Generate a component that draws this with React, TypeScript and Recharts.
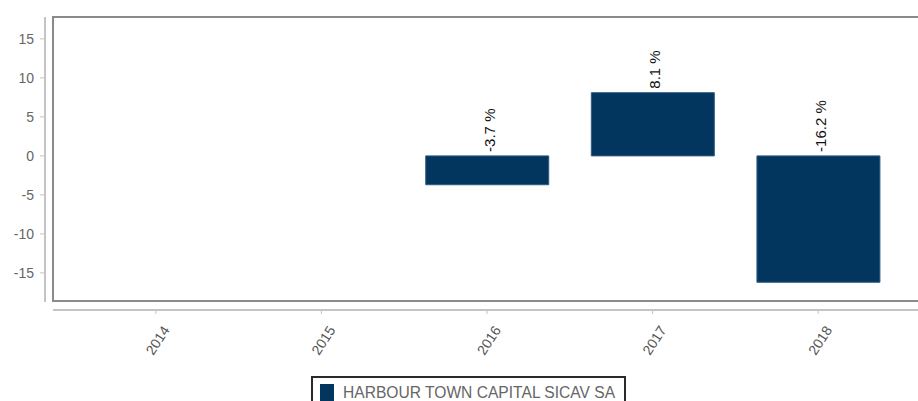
import { BarChart, Bar, XAxis, YAxis, Legend, LabelList } from "recharts";

const YEARS = ["2014", "2015", "2016", "2017", "2018"];
const RETURNS: (number | null)[] = [null, null, -3.7, 8.1, -16.2];
const Y_TICKS = [-15, -10, -5, 0, 5, 10, 15];
const Y_DOMAIN = [-18.6, 17.8];
const SERIES_NAME = "HARBOUR TOWN CAPITAL SICAV SA";

const FONT = '"Liberation Sans", Arial, sans-serif';
const BAR_COLOR = "#03365F";

const chartData = YEARS.map((year, i) => ({ year, value: RETURNS[i] }));

function YTick(props: any) {
  const { y, payload } = props;
  return (
    <g>
      <line x1={40} x2={45} y1={y} y2={y} stroke="#c4c4c4" strokeWidth={1} />
      <text x={34} y={y} textAnchor="end" dominantBaseline="central" fontSize={14} fill="#666" fontFamily={FONT}>
        {payload.value}
      </text>
    </g>
  );
}

function XTick(props: any) {
  const { x, payload } = props;
  const tx = x + 6;
  const ty = 343;
  return (
    <g>
      <line x1={x} x2={x} y1={310} y2={314} stroke="#c4c4c4" strokeWidth={1} />
      <text
        x={tx}
        y={ty}
        transform={`rotate(-57 ${tx} ${ty})`}
        textAnchor="middle"
        fontSize={14}
        fill="#555"
        fontFamily={FONT}
      >
        {payload.value}
      </text>
    </g>
  );
}

function BarLabel(props: any) {
  const { x, y, width, height, value } = props;
  if (value == null) return null;
  const top = Math.min(y, y + height);
  const cx = x + width / 2 + 2;
  const ty = top - 4;
  return (
    <text
      x={cx}
      y={ty}
      transform={`rotate(-90 ${cx} ${ty})`}
      textAnchor="start"
      dominantBaseline="central"
      fontSize={15}
      fill="#111"
      fontFamily={FONT}
    >
      {`${Number(value).toFixed(1)} %`}
    </text>
  );
}

function LegendBox() {
  return (
    <div
      style={{
        boxSizing: "border-box",
        width: 315,
        height: 30,
        border: "2px solid #2a2a2a",
        display: "flex",
        alignItems: "flex-start",
        paddingLeft: 7,
        paddingTop: 6,
        fontFamily: FONT,
      }}
    >
      <span style={{ width: 14, height: 17, background: BAR_COLOR, display: "inline-block" }} />
      <span style={{ marginLeft: 9, fontSize: 15.6, color: "#666", lineHeight: "17px", whiteSpace: "nowrap" }}>
        {SERIES_NAME}
      </span>
    </div>
  );
}

export default function App() {
  return (
    <div style={{ position: "absolute", left: 0, top: 0, background: "#fff" }}>
      <BarChart
        width={918}
        height={401}
        data={chartData}
        margin={{ top: 17, right: 0, left: 0, bottom: 10 }}
        barCategoryGap="13%"
      >
        {/* plot frame and detached axis lines */}
        <rect x={53} y={17} width={880} height={284} fill="none" stroke="#8a8a8a" strokeWidth={2} />
        <line x1={45} x2={45} y1={17} y2={302} stroke="#c4c4c4" strokeWidth={2} />
        <line x1={53} x2={918} y1={310} y2={310} stroke="#c4c4c4" strokeWidth={2} />
        <XAxis
          dataKey="year"
          height={60}
          padding={{ left: 20, right: 17 }}
          axisLine={false}
          tickLine={false}
          tick={<XTick />}
          interval={0}
        />
        <YAxis
          width={53}
          domain={Y_DOMAIN}
          ticks={Y_TICKS}
          type="number"
          axisLine={false}
          tickLine={false}
          tick={<YTick />}
          interval={0}
        />
        <Legend
          verticalAlign="bottom"
          content={() => <LegendBox />}
          wrapperStyle={{ left: 311, top: 376, bottom: "auto", width: 315, height: 30 }}
        />
        <Bar dataKey="value" name={SERIES_NAME} fill={BAR_COLOR} stroke="#2f5a84" strokeWidth={1} isAnimationActive={false}>
          <LabelList dataKey="value" content={<BarLabel />} />
        </Bar>
      </BarChart>
    </div>
  );
}
